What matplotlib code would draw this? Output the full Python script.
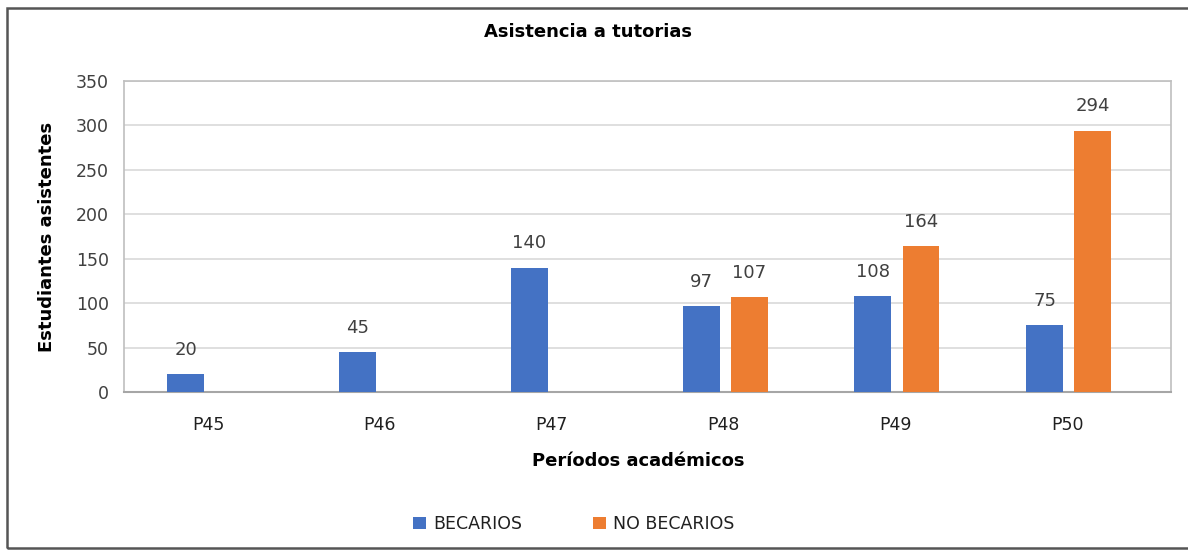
import matplotlib
matplotlib.use("Agg")
import matplotlib.pyplot as plt
from matplotlib.patches import Rectangle
import numpy as np

categories = ["P45", "P46", "P47", "P48", "P49", "P50"]
becarios = [20, 45, 140, 97, 108, 75]
no_becarios = [None, None, None, 107, 164, 294]
yticks = [0, 50, 100, 150, 200, 250, 300, 350]

BLUE = "#4472C4"
ORANGE = "#ED7D31"

fig = plt.figure(figsize=(11.88, 5.53), dpi=100)
ax = fig.add_axes([124/1188, 1-392/553, (1171-124)/1188, (392-81)/553])

x = np.arange(len(categories))
w = 0.215
off = 0.14

ax.bar(x - off + 0.01, becarios, width=w, color=BLUE, label="BECARIOS", zorder=3)
nb_x = [xi + off + 0.01 for xi, v in zip(x, no_becarios) if v is not None]
nb_v = [v for v in no_becarios if v is not None]
ax.bar(nb_x, nb_v, width=w, color=ORANGE, label="NO BECARIOS", zorder=3)

for xi, v in zip(x - off + 0.01, becarios):
    ax.annotate(str(v), (xi, v), xytext=(0, 11), textcoords="offset points",
                ha="center", va="bottom", fontsize=13, color="#404040")
for xi, v in zip(nb_x, nb_v):
    ax.annotate(str(v), (xi, v), xytext=(0, 11), textcoords="offset points",
                ha="center", va="bottom", fontsize=13, color="#404040")

ax.set_ylim(0, 350)
ax.set_xlim(-0.489, 5.605)
ax.set_yticks(yticks)
ax.set_yticklabels([str(t) for t in yticks], fontsize=12.5, color="#404040")
ax.set_xticks(x)
ax.set_xticklabels(categories, fontsize=12.5, color="#202020")
ax.tick_params(axis="both", length=0)
ax.tick_params(axis="y", pad=11)
ax.tick_params(axis="x", pad=17)
ax.grid(axis="y", color="#d9d9d9", linewidth=1.2, zorder=0)
for s in ax.spines.values():
    s.set_color("#bfbfbf")
    s.set_linewidth(1.2)
ax.spines["bottom"].set_color("#a6a6a6")
ax.spines["bottom"].set_linewidth(1.5)

ax.set_ylabel("Estudiantes asistentes", fontsize=13, fontweight="bold", labelpad=14)
ax.set_xlabel("Períodos académicos", fontsize=13, fontweight="bold", labelpad=14)
ax.xaxis.set_label_coords((638-124)/(1171-124), -0.193)

fig.text(588/1188, 1-32/553, "Asistencia a tutorias", fontsize=13,
         fontweight="bold", ha="center", va="center")

ax.legend(loc="center", bbox_to_anchor=(574/1188, 1-524/553),
          bbox_transform=fig.transFigure, ncol=2, frameon=False, fontsize=12.5,
          handlelength=0.75, handleheight=0.75, columnspacing=4.1, handletextpad=0.4,
          labelcolor="#202020")

fig.patches.append(Rectangle((7/1188, 1-548/553), 1.1, (548-8)/553,
                             transform=fig.transFigure, fill=False,
                             edgecolor="#555555", linewidth=1.8))

fig.savefig("out.png", dpi=100)
